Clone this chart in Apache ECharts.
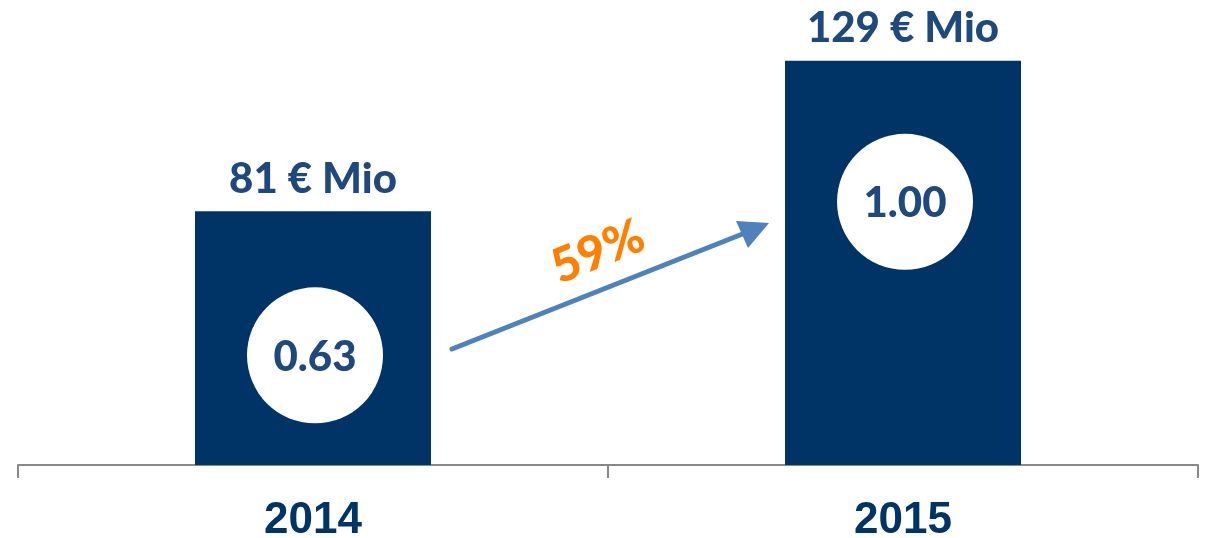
<!DOCTYPE html>
<html>
<head>
<meta charset="utf-8">
<script src="https://cdn.jsdelivr.net/npm/echarts@6/dist/echarts.min.js"></script>
<style>
  html, body { margin: 0; padding: 0; background: #fff; }
  #chart { width: 1207px; height: 538px; }
</style>
</head>
<body>
<div id="chart"></div>
<script>
// data
const years = ['2014', '2015']
const revenue = [81, 129] // € Mio
const revenueLabels = ['81 € Mio', '129 € Mio']
const indexValues = ['0.63', '1.00']
const growthLabel = '59%'

// circle centres, in axis units (layout only)
const circleAt = [35, 84]

const labelFont = 'Lato, "Open Sans", sans-serif'

let chart = echarts.init(document.getElementById('chart'))

let option = {
  animation: false,
  grid: { left: 18, right: 9, top: 26.4, bottom: 73, containLabel: false, outerBoundsMode: 'none' },
  xAxis: {
    type: 'category',
    data: years,
    axisLine: { lineStyle: { color: '#898989', width: 2 } },
    axisTick: { show: true, length: 13, lineStyle: { color: '#898989', width: 2 } },
    axisLabel: {
      margin: 34,
      color: '#003366',
      fontSize: 44,
      fontWeight: 'bold',
      fontFamily: '"Liberation Sans", Arial, sans-serif'
    }
  },
  yAxis: {
    type: 'value',
    min: 0,
    max: 140,
    show: false,
    splitLine: { show: false }
  },
  series: [
    {
      type: 'bar',
      data: revenue,
      barWidth: '40%',
      itemStyle: { color: '#003366' },
      label: {
        show: true,
        position: 'top',
        distance: 11,
        color: '#1F497D',
        fontSize: 42,
        fontWeight: 900,
        fontFamily: labelFont,
        formatter: (p) => revenueLabels[p.dataIndex]
      }
    },
    {
      // white circles with index values
      type: 'custom',
      z: 5,
      data: circleAt.map((y, i) => [i, y]),
      encode: { x: 0, y: 1 },
      renderItem: function (params, api) {
        let c = api.coord([api.value(0), api.value(1)])
        return {
          type: 'group',
          children: [
            { type: 'circle', shape: { cx: c[0] + 2, cy: c[1], r: 68 }, style: { fill: '#fff' } },
            {
              type: 'text',
              x: c[0] + 2,
              y: c[1] + 2,
              style: {
                text: indexValues[params.dataIndex],
                fill: '#1F497D',
                fontSize: 42,
                fontWeight: 900,
                fontFamily: labelFont,
                align: 'center',
                verticalAlign: 'middle'
              }
            }
          ]
        }
      }
    }
  ],
  graphic: [
    {
      type: 'line',
      shape: { x1: 452, y1: 349, x2: 745, y2: 233 },
      style: { stroke: '#4F81BD', lineWidth: 5, lineCap: 'round' }
    },
    {
      type: 'polygon',
      shape: { points: [[769, 223], [736, 221], [748, 248]] },
      style: { fill: '#4F81BD' }
    },
    {
      type: 'text',
      x: 598,
      y: 252,
      rotation: 22 * Math.PI / 180,
      style: {
        text: growthLabel,
        fill: '#FF8000',
        fontSize: 48,
        fontWeight: 900,
        fontFamily: labelFont,
        align: 'center',
        verticalAlign: 'middle'
      }
    }
  ]
}

chart.setOption(option)
</script>
</body>
</html>
